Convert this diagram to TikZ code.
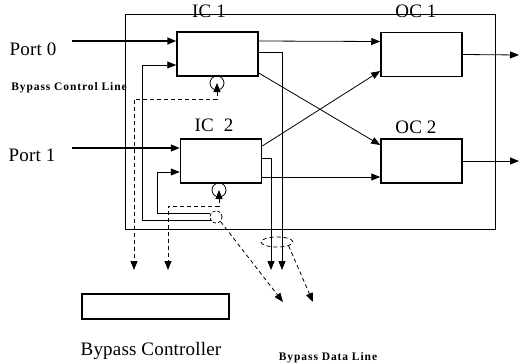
\documentclass[tikz,border=0pt]{standalone}
\usepackage{fontspec}
\setmainfont{Liberation Serif}
\newfontfamily\labfont[LetterSpace=1]{Liberation Serif}
\newfontfamily\notefont[LetterSpace=8]{Liberation Serif}
\usepackage{tikz}
\usetikzlibrary{arrows.meta,shapes.geometric}

\begin{document}
\begin{tikzpicture}[x=1pt,y=-1pt,>={Triangle[length=9pt,width=7pt]},
  box/.style={draw,line width=1.5pt,inner sep=0pt,minimum width=81pt,minimum height=44pt},
  lbl/.style={inner sep=0pt,font=\labfont\fontsize{19}{19}\selectfont},
  note/.style={inner sep=0pt,font=\notefont\bfseries\fontsize{11.5}{11.5}\selectfont},
  sig/.style={line width=0.8pt},
  ctl/.style={line width=0.8pt,dash pattern=on 4pt off 3pt},
  ring/.style={draw,circle,line width=0.8pt,inner sep=0pt,minimum size=#1}]
\useasboundingbox (0,0) rectangle (522,364);
% switch frame
\draw[sig] (125,14) rectangle (495,229);
% input / output controllers
\node[box] (IC1) at (217.5,54) {};
\node[box] (IC2) at (221,161) {};
\node[box] (OC1) at (421.5,54.5) {};
\node[box] (OC2) at (421.5,161) {};
\node[box,minimum width=147pt,minimum height=25pt] (BC) at (155.5,306.5) {};
\node[lbl] (tIC1) at (209,11) {IC 1};
\node[lbl] (tIC2) at (214,125) {IC\ \ 2};
\node[lbl] (tOC1) at (416,11) {OC 1};
\node[lbl] (tOC2) at (416,127) {OC 2};
\node[lbl] (tP0) at (33,49) {Port 0};
\node[lbl] (tP1) at (32,155) {Port 1};
\node[lbl] (tBC) at (151,351) {Bypass Controller};
\node[note] (tBCL) at (69,88) {Bypass Control Line};
\node[note] (tBDL) at (328,358) {Bypass Data Line};
% control rings and bypass taps
\node[ring=14pt] (cc1) at (217,83) {};
\node[ring=14pt] (cc2) at (219,190) {};
\node[ring=12pt,dash pattern=on 3pt off 2pt] (bdc) at (216,217) {};
\node[draw,ellipse,line width=0.8pt,dash pattern=on 4pt off 3pt,minimum width=32pt,minimum height=10pt,inner sep=0pt] (bde) at (277,242) {};
\coordinate (in0) at (72,41);
\coordinate (in1) at (72,148);
\coordinate (out1) at (519,55);
\coordinate (out2) at (519,161);
\coordinate (k1) at (134,270);
\coordinate (k2) at (168,270);
\coordinate (d1) at (282,270);
\coordinate (d2) at (271,270);
\coordinate (e0) at (283,302);
\coordinate (e1) at (313,302);
% ports
\draw[->,line width=1.5pt] (in0) -- ([yshift=13pt]IC1.west);
\draw[->,line width=1.5pt] (in1) -- ([yshift=13pt]IC2.west);
\draw[sig,->] (OC1.east) -- (out1);
\draw[sig,->] (OC2.east) -- (out2);
% crossbar
\draw[sig,->] ([yshift=13pt]IC1.east) -- ([yshift=13pt]OC1.west);
\draw[sig,->] ([yshift=-19pt]IC1.east) -- ([yshift=16pt]OC2.west);
\draw[sig,->] ([yshift=15pt]IC2.east) -- ([yshift=-16.5pt]OC1.west);
\draw[sig,->] ([yshift=-16pt]IC2.east) -- ([yshift=-16pt]OC2.west);
% bypass inputs
\draw[sig,->] ([xshift=-5pt,yshift=-3pt]bdc.center) -| ([xshift=-34pt,yshift=-11pt]IC1.west) -- ([yshift=-11pt]IC1.west);
\draw[sig,->] ([xshift=-6pt,yshift=4pt]bdc.center) -| ([xshift=-22pt,yshift=-11pt]IC2.west) -- ([yshift=-11pt]IC2.west);
% bypass data out
\draw[sig,->] ([yshift=2pt]IC1.east) -| (d1);
\draw[sig,->] ([yshift=3pt]IC2.east) -| (d2);
\draw[ctl,->] (bdc.south east) -- (e0);
\draw[ctl,->] (bde.south east) -- (e1);
% control lines
\draw[ctl,<->] (cc1.center) -- ++(0,16) -| (k1);
\draw[ctl,<->] (cc2.center) -- ++(0,16) -| (k2);
\end{tikzpicture}
\end{document}
